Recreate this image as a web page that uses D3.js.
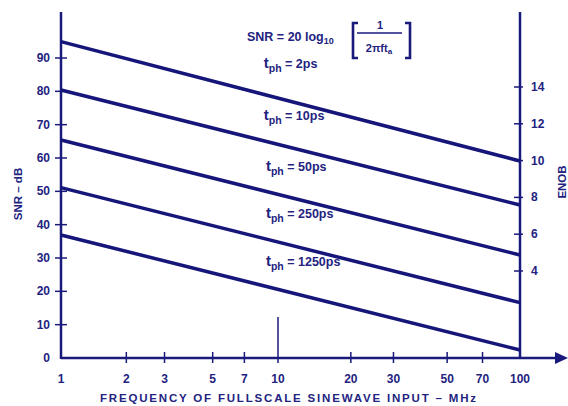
<!DOCTYPE html>
<html lang="en">
<head>
    <meta charset="utf-8">
    <style type="text/css">
        body { margin: 0; background: #fff; }
        text { font-family: "Liberation Sans", Arial, sans-serif; font-weight: bold; fill: #23237f; }
        .axis-line { stroke: #1a1a7c; stroke-width: 2.5px; fill: none; }
        .tick { stroke: #1a1a7c; stroke-width: 1.5px; }
        .curve { stroke: #15157a; stroke-width: 3.5px; fill: none; }
    </style>
</head>
<body>
<svg width="568" height="406"></svg>

<script src="https://d3js.org/d3.v7.min.js"></script>
<script type="text/javascript">
    // values
    var freqTicks = [1, 2, 3, 5, 7, 10, 20, 30, 50, 70, 100];
    var snrTicks = [0, 10, 20, 30, 40, 50, 60, 70, 80, 90];
    var enobTicks = [4, 6, 8, 10, 12, 14];
    var apertureLabels = ["2ps", "10ps", "50ps", "250ps", "1250ps"];
    var snrAt1MHz = [94.9, 80.4, 65.4, 51.1, 36.9];
    var snrAt100MHz = [59.1, 45.9, 30.9, 16.6, 2.4];
    var labelFreq = [8.6, 8.6, 8.8, 8.8, 8.8];
    var labelSnr = [87, 71.5, 56, 42, 27.6];

    var svg = d3.select("svg");

    // the paper's decades are not quite even, so a two-piece log scale
    var x = d3.scaleLog().domain([1, 10, 100]).range([61, 278, 520]);
    var y = d3.scaleLinear().domain([0, 90]).range([358, 58]);
    var yEnob = d3.scaleLinear().domain([4, 14]).range([271, 87]);

    // axes
    svg.append("line").attr("class", "axis-line")
        .attr("x1", x(1)).attr("x2", x(1)).attr("y1", 12).attr("y2", y(0) + 1);
    svg.append("line").attr("class", "axis-line")
        .attr("x1", x(100)).attr("x2", x(100)).attr("y1", 12).attr("y2", y(0) + 1);
    svg.append("line").attr("class", "axis-line")
        .attr("x1", x(1)).attr("x2", 558).attr("y1", y(0)).attr("y2", y(0));
    svg.append("path")
        .attr("d", "M555," + (y(0) - 6) + "L568," + y(0) + "L555," + (y(0) + 6) + "Z")
        .attr("fill", "#1a1a7c");

    // left ticks
    svg.selectAll(".ltick").data(snrTicks.filter(function (d) { return d > 0; }))
        .enter().append("line").attr("class", "tick")
        .attr("x1", x(1) - 6).attr("x2", x(1) + 6)
        .attr("y1", function (d) { return y(d); })
        .attr("y2", function (d) { return y(d); });
    svg.selectAll(".llabel").data(snrTicks)
        .enter().append("text")
        .attr("x", 50).attr("y", function (d) { return y(d) + 4; })
        .attr("text-anchor", "end").attr("font-size", 12)
        .text(function (d) { return d; });

    // right ticks
    svg.selectAll(".rtick").data(enobTicks)
        .enter().append("line").attr("class", "tick")
        .attr("x1", x(100) - 6).attr("x2", x(100) + 3)
        .attr("y1", function (d) { return yEnob(d); })
        .attr("y2", function (d) { return yEnob(d); });
    svg.selectAll(".rlabel").data(enobTicks)
        .enter().append("text")
        .attr("x", 531).attr("y", function (d) { return yEnob(d) + 4; })
        .attr("font-size", 12)
        .text(function (d) { return d; });

    // bottom ticks
    svg.selectAll(".btick").data(freqTicks.filter(function (d) { return d > 1 && d < 100; }))
        .enter().append("line").attr("class", "tick")
        .attr("x1", function (d) { return x(d); })
        .attr("x2", function (d) { return x(d); })
        .attr("y1", function (d) { return d === 10 ? 317 : y(0) - 6; })
        .attr("y2", y(0) + 5);
    svg.selectAll(".blabel").data(freqTicks)
        .enter().append("text")
        .attr("x", function (d) { return x(d); }).attr("y", 383)
        .attr("text-anchor", "middle").attr("font-size", 12)
        .text(function (d) { return d; });

    // titles
    svg.append("text")
        .attr("x", 288).attr("y", 402)
        .attr("text-anchor", "middle").attr("font-size", 11.5)
        .attr("textLength", 376)
        .text("FREQUENCY OF FULLSCALE SINEWAVE INPUT – MHz");
    svg.append("text")
        .attr("transform", "translate(22,194) rotate(-90)")
        .attr("text-anchor", "middle").attr("font-size", 11.5)
        .text("SNR – dB");
    svg.append("text")
        .attr("transform", "translate(566,182) rotate(-90)")
        .attr("text-anchor", "middle").attr("font-size", 11.5)
        .text("ENOB");

    // the aperture jitter lines
    svg.selectAll(".curve").data(snrAt1MHz)
        .enter().append("line").attr("class", "curve")
        .attr("x1", x(1)).attr("x2", x(100))
        .attr("y1", function (d) { return y(d); })
        .attr("y2", function (d, i) { return y(snrAt100MHz[i]); });

    var lbl = svg.selectAll(".tlabel").data(apertureLabels)
        .enter().append("text")
        .attr("x", function (d, i) { return x(labelFreq[i]); })
        .attr("y", function (d, i) { return y(labelSnr[i]); })
        .attr("font-size", 12.5);
    lbl.append("tspan").attr("font-size", 15).text("t");
    lbl.append("tspan").attr("dy", 4).attr("font-size", 10.5).text("ph");
    lbl.append("tspan").attr("dy", -4).text(" = ");
    lbl.append("tspan").text(function (d) { return d; });

    // formula
    var f = svg.append("g");
    var eq = f.append("text").attr("x", 247).attr("y", 41).attr("font-size", 12.5);
    eq.append("tspan").text("SNR = 20 log");
    eq.append("tspan").attr("dy", 3).attr("font-size", 9).text("10");
    f.append("path").attr("d", "M358,23H353V58H358").attr("fill", "none")
        .attr("stroke", "#1a1a7c").attr("stroke-width", 2.6);
    f.append("path").attr("d", "M405,23H410V58H405").attr("fill", "none")
        .attr("stroke", "#1a1a7c").attr("stroke-width", 2.6);
    f.append("line").attr("x1", 357).attr("x2", 402).attr("y1", 33).attr("y2", 33)
        .attr("stroke", "#1a1a7c").attr("stroke-width", 1.5);
    f.append("text").attr("x", 380).attr("y", 29).attr("text-anchor", "middle")
        .attr("font-size", 11).text("1");
    var den = f.append("text").attr("x", 379).attr("y", 52).attr("text-anchor", "middle")
        .attr("font-size", 11);
    den.append("tspan").text("2\u03c0ft");
    den.append("tspan").attr("dy", 2).attr("font-size", 8).text("a");
</script>
</body>
</html>
